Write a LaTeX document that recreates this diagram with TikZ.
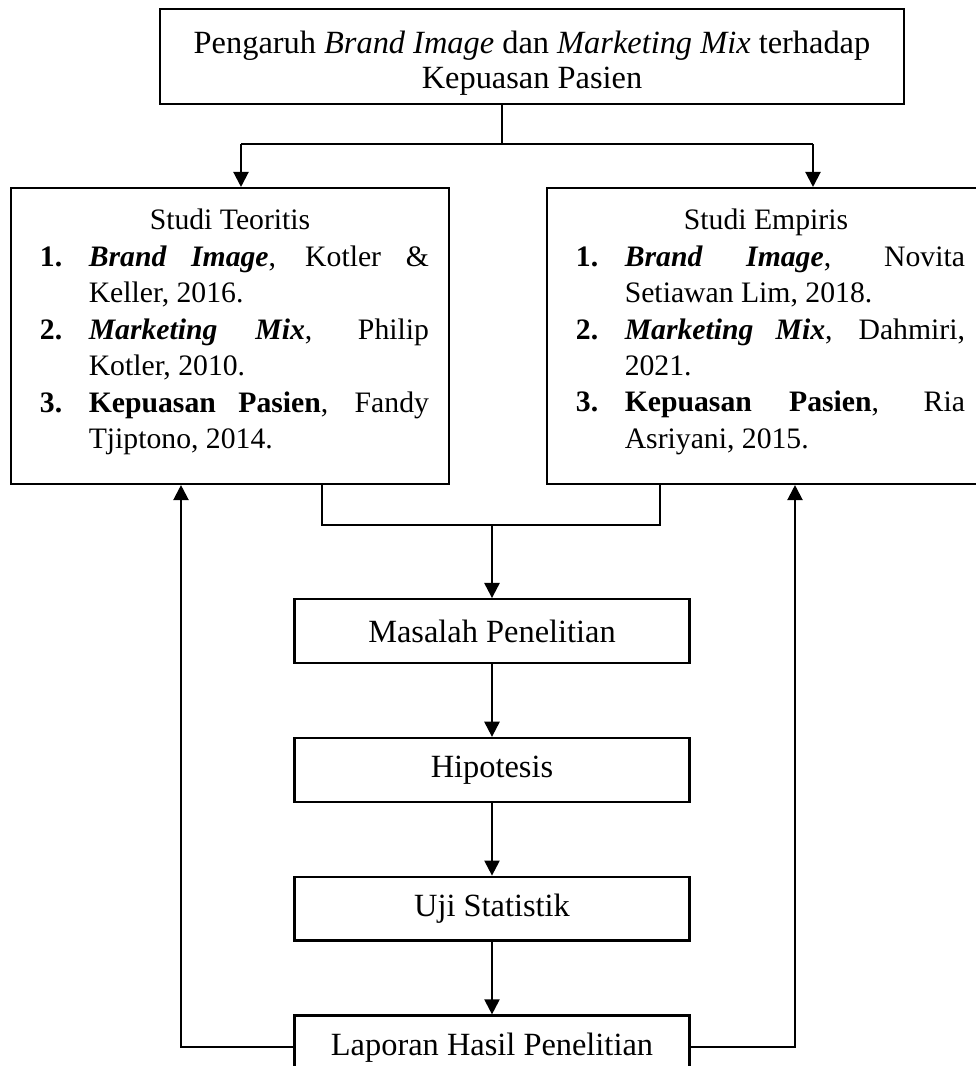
\documentclass[tikz,border=0pt]{standalone}
\usepackage{fontspec}
\setmainfont{Liberation Serif}
\usepackage{tikz}
\usetikzlibrary{arrows.meta, positioning}

\newcommand{\butir}[2]{\par{\leftskip=3.3pt\hangindent=18.1pt\hangafter=1\noindent\makebox[18.1pt][l]{\textbf{#1}}#2\par}}

\begin{document}
\begin{tikzpicture}[
    x=0.37037pt, y=-0.37037pt,
    node distance=27pt,
    block/.style={rectangle, draw, line width=0.8pt, align=center, minimum width=146.3pt, minimum height=23.6pt, inner sep=0pt, font=\fontsize{12pt}{13pt}\selectfont},
    listbox/.style={rectangle, draw, line width=0.8pt, text width=147.4pt, align=justify, inner xsep=7.4pt, minimum height=109.6pt, font=\fontsize{11pt}{13.5pt}\selectfont},
    line/.style={draw, line width=0.8pt, -{Triangle[length=5.6pt, width=5.6pt]}},
    link/.style={draw, line width=0.8pt}
]
\useasboundingbox (0,0) rectangle (976,1066);

% Judul
\node[block, minimum width=275.6pt, minimum height=35.2pt] (title) at (532,56.5) {\rule{0pt}{13.5pt}Pengaruh \textit{Brand Image} dan \textit{Marketing Mix} terhadap\\Kepuasan Pasien};

% Studi teoritis dan empiris
\node[listbox] (theory) at (230,336) {{\centering Studi Teoritis\par}
    \butir{1.}{\textbf{\textit{Brand Image}}, Kotler \&\linebreak Keller, 2016.}
    \butir{2.}{\textbf{\textit{Marketing Mix}}, Philip\linebreak Kotler, 2010.}
    \butir{3.}{\textbf{Kepuasan Pasien}, Fandy\linebreak Tjiptono, 2014.}
    \vspace{3pt}\kern0pt};
\node[listbox] (empirical) at (766,336) {{\centering Studi Empiris\par}
    \butir{1.}{\textbf{\textit{Brand Image}}, Novita\linebreak Setiawan Lim, 2018.}
    \butir{2.}{\textbf{\textit{Marketing Mix}}, Dahmiri,\linebreak 2021.}
    \butir{3.}{\textbf{Kepuasan Pasien}, Ria\linebreak Asriyani, 2015.}
    \vspace{3pt}\kern0pt};

% Alur penelitian
\node[block] (problem) at (492,631) {Masalah Penelitian};
\node[block, below=of problem] (hypothesis) {Hipotesis};
\node[block, below=of hypothesis] (stattest) {Uji Statistik};
\node[block, below=of stattest] (report) {Laporan Hasil Penelitian};

% Titik belok
\coordinate (split) at (502,144);
\coordinate (splitleft) at (241,144);
\coordinate (splitright) at (813,144);
\coordinate (mergeleft) at (322,525);
\coordinate (mergeright) at (660,525);
\coordinate (backleft) at (181,1040);
\coordinate (backright) at (795,1040);

% Hubungan
\path[link] (title.south -| split) -- (split);
\path[link] (splitleft) -- (splitright);
\path[line] (splitleft) -- (splitleft |- theory.north);
\path[line] (splitright) -- (splitright |- empirical.north);
\path[link] (theory.south -| mergeleft) -- (mergeleft) -- (mergeright) -- (empirical.south -| mergeright);
\path[line] (problem.north |- mergeleft) -- (problem.north);
\path[line] (problem) -- (hypothesis);
\path[line] (hypothesis) -- (stattest);
\path[line] (stattest) -- (report);

% Umpan balik
\path[line] (report.west) -| (theory.south -| backleft);
\path[line] (report.east) -| (empirical.south -| backright);

\end{tikzpicture}
\end{document}
